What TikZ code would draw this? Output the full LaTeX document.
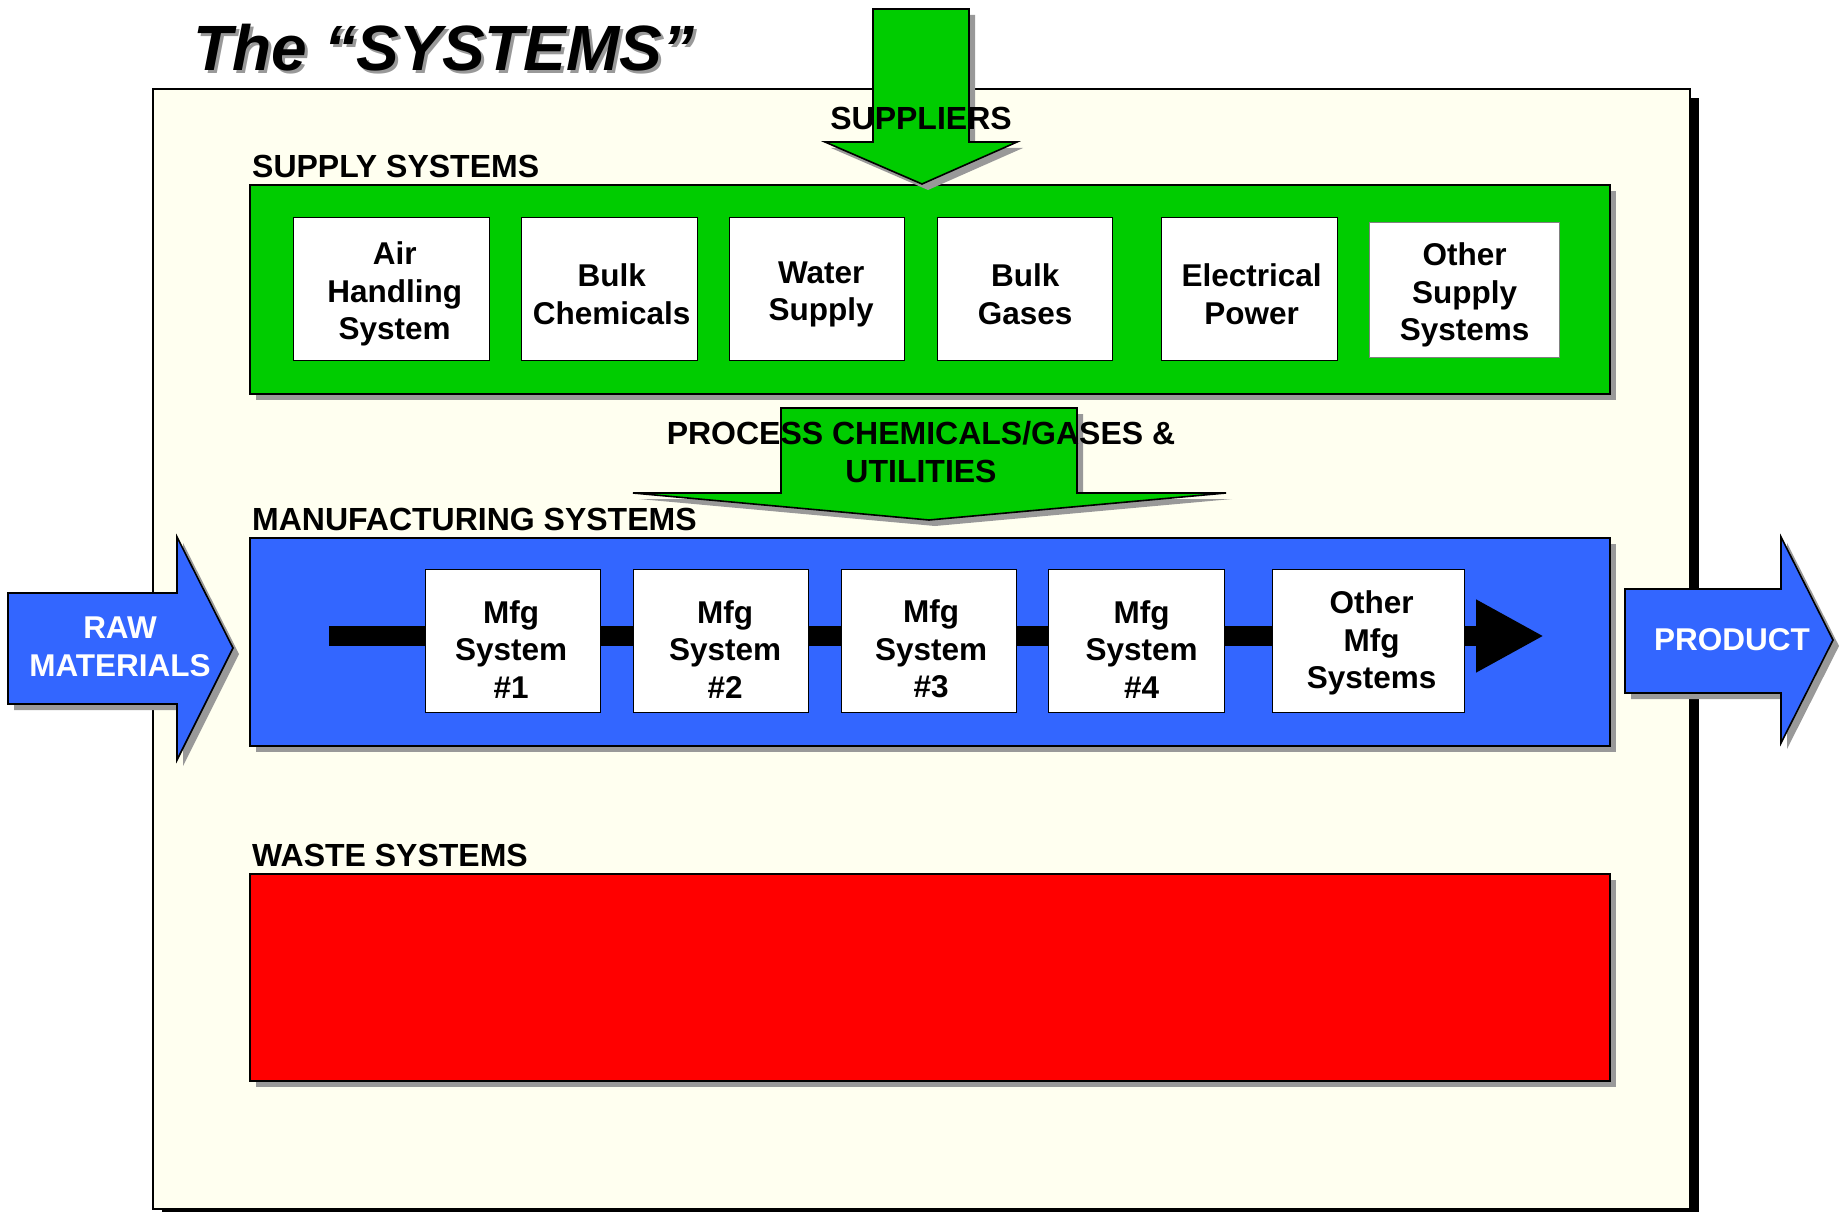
\documentclass[tikz,border=0pt]{standalone}
\usepackage{fontspec}
\setmainfont{Liberation Sans}
\usetikzlibrary{shadows,arrows.meta}

\definecolor{cream}{HTML}{FFFFF0}
\definecolor{supgreen}{HTML}{00CC00}
\definecolor{mfgblue}{HTML}{3366FF}
\definecolor{wastered}{HTML}{FF0000}
\definecolor{shgray}{HTML}{999999}

\newcommand{\sectfont}{\fontsize{32}{38}\selectfont\bfseries}
\newcommand{\boxfont}{\fontsize{31.5}{37.5}\selectfont\bfseries}

\begin{document}
\begin{tikzpicture}[x=1pt,y=-1pt,
  grayshadow/.style={drop shadow={shadow xshift=6pt,shadow yshift=-6pt,fill=shgray,opacity=1}},
  band/.style={draw=black,line width=2pt,anchor=north west,inner sep=0pt,
    minimum width=1360pt,grayshadow},
  unitbox/.style={draw=black,line width=1.4pt,fill=white,anchor=north west,
    inner sep=0pt,minimum height=143pt},
  boxtext/.style={align=center,inner sep=0pt,font=\boxfont},
  suptext/.style={boxtext,yshift=-5pt},
  mfgtext/.style={boxtext,yshift=-8pt},
  sectlabel/.style={anchor=base west,inner sep=0pt,font=\sectfont},
  blockarrow/.style={draw=black,line width=1.6pt,grayshadow},
  arrowlabel/.style={align=center,inner sep=0pt,font=\sectfont}
]
\useasboundingbox (0,0) rectangle (1839,1212);

% outer panel
\node[draw=black,fill=cream,line width=2pt,anchor=north west,inner sep=0pt,
  minimum width=1537pt,minimum height=1120pt,
  drop shadow={shadow xshift=9pt,shadow yshift=-9pt,fill=black,opacity=1}]
  (panel) at (152,88) {};

% title with its shadow
\node[anchor=base west,inner sep=0pt,text=shgray,
  font=\fontsize{64}{70}\selectfont\bfseries\itshape] (titleshadow) at (196,74) {The “SYSTEMS”};
\node[anchor=base west,inner sep=0pt,
  font=\fontsize{64}{70}\selectfont\bfseries\itshape] (title) at (193,71) {The “SYSTEMS”};

% the three system bands
\node[band,fill=supgreen,minimum height=209pt] (supply) at (249,184) {};
\node[band,fill=mfgblue,minimum height=208pt] (mfg) at (249,537) {};
\node[band,fill=wastered,minimum height=207pt] (waste) at (249,873) {};

\node[sectlabel] (supplylbl) at (252,178) {SUPPLY SYSTEMS};
\node[sectlabel] (mfglbl) at (252,530) {MANUFACTURING SYSTEMS};
\node[sectlabel] (wastelbl) at (252,866) {WASTE SYSTEMS};

% supply units
\node[unitbox,minimum width=196pt,label={[suptext,xshift=3pt]center:{Air\\Handling\\System}}] (air) at (293,217) {};
\node[unitbox,minimum width=176pt,label={[suptext,xshift=2pt]center:{Bulk\\Chemicals}}] (chem) at (521,217) {};
\node[unitbox,minimum width=175pt,label={[suptext,xshift=4pt]center:{Water\\Supply}}] (water) at (729,217) {};
\node[unitbox,minimum width=175pt,label={[suptext]center:{Bulk\\Gases}}] (gases) at (937,217) {};
\node[unitbox,minimum width=176pt,label={[suptext,xshift=2pt]center:{Electrical\\Power}}] (power) at (1161,217) {};
\node[unitbox,draw=gray,minimum width=190pt,minimum height=135pt,
  label={[suptext]center:{Other\\Supply\\Systems}}] (othersup) at (1369,222) {};

% suppliers arrow
\filldraw[blockarrow,fill=supgreen]
  (873,9) -- (969,9) -- (969,142) -- (1017,142) -- (922,184) -- (825,142) -- (873,142) -- cycle;
\node[arrowlabel,anchor=base] (supplierslbl) at (921,130) {SUPPLIERS};

% process chemicals arrow
\filldraw[blockarrow,fill=supgreen]
  (781,408) -- (1077,408) -- (1077,493) -- (1226,493) -- (929,520) -- (633,493) -- (781,493) -- cycle;
\node[arrowlabel] (processlbl) at (921,452) {PROCESS CHEMICALS/GASES \&\\UTILITIES};

% manufacturing flow line
\coordinate (flowstart) at (329,636);
\coordinate (flowend) at (1544,636);
\draw[line width=20pt,-{Triangle[length=68pt,width=68pt]}] (flowstart) -- (flowend);

% manufacturing units
\node[unitbox,minimum width=175pt,label={[mfgtext,xshift=-2pt]center:{Mfg\\System\\\#1}}] (m1) at (425,569) {};
\node[unitbox,minimum width=175pt,label={[mfgtext,xshift=4pt]center:{Mfg\\System\\\#2}}] (m2) at (633,569) {};
\node[unitbox,minimum width=175pt,label={[mfgtext,xshift=2pt]center:{Mfg\\System\\\#3}}] (m3) at (841,569) {};
\node[unitbox,minimum width=176pt,label={[mfgtext,xshift=5pt]center:{Mfg\\System\\\#4}}] (m4) at (1048,569) {};
\node[unitbox,minimum width=192pt,label={[boxtext,yshift=-2pt,xshift=3pt]center:{Other\\Mfg\\Systems}}] (m5) at (1272,569) {};

% raw materials arrow
\filldraw[blockarrow,fill=mfgblue]
  (8,593) -- (177,593) -- (177,537) -- (233,648) -- (177,760) -- (177,704) -- (8,704) -- cycle;
\node[arrowlabel,text=white,font=\boxfont] (rawlbl) at (120,647) {RAW\\MATERIALS};

% product arrow
\filldraw[blockarrow,fill=mfgblue]
  (1625,589) -- (1781,589) -- (1781,537) -- (1833,640) -- (1781,743) -- (1781,693) -- (1625,693) -- cycle;
\node[arrowlabel,text=white,font=\boxfont] (productlbl) at (1732,640) {PRODUCT};
\end{tikzpicture}
\end{document}
